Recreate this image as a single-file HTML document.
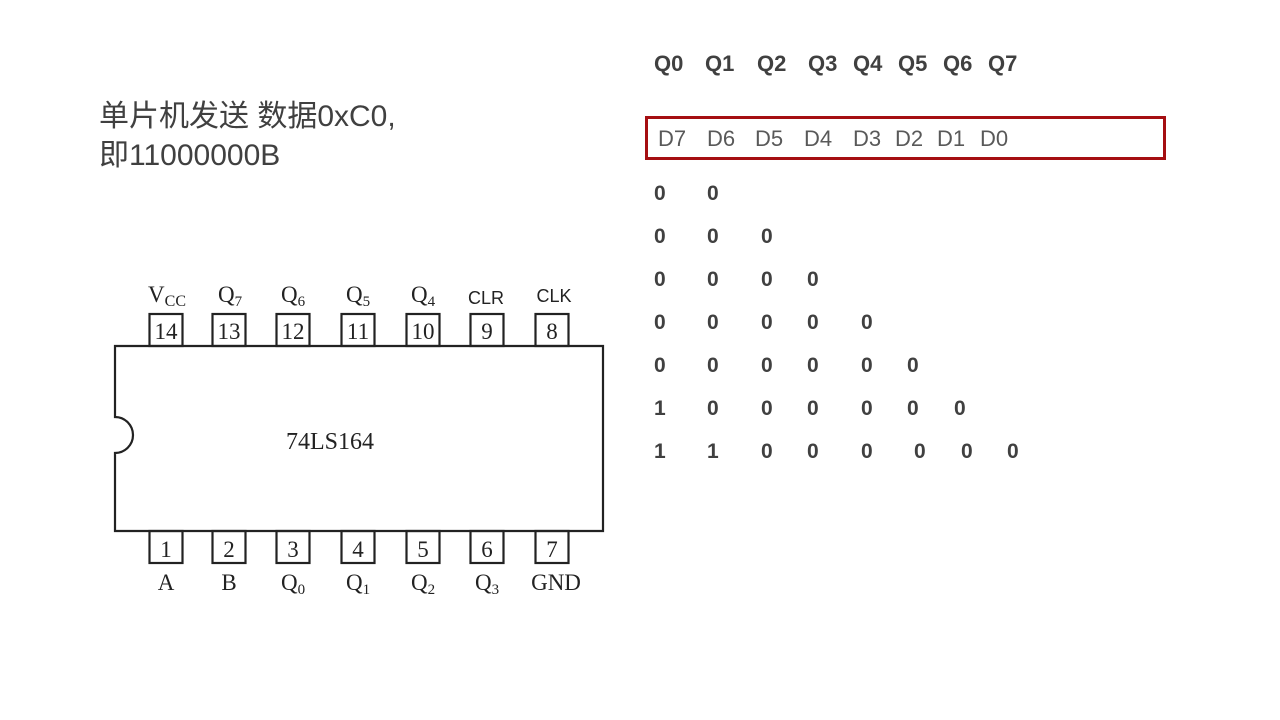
<!DOCTYPE html>
<html><head><meta charset="utf-8">
<style>
body{margin:0;width:1280px;height:720px;background:#fff;position:relative;overflow:hidden;font-family:"Liberation Sans","Noto Sans CJK SC",sans-serif}
.t{position:absolute;white-space:nowrap}
.q{font-weight:bold;font-size:22px;color:#404040;top:51px}
.d{font-size:22px;color:#595959;top:126px}
</style></head><body>
<div class="t" style="left:99px;top:97px;font-size:30px;line-height:39px;color:#404040">单片机发送 数据0xC0,<br>即11000000B</div>

<div class="t q" style="left:654px">Q0</div>
<div class="t q" style="left:705px">Q1</div>
<div class="t q" style="left:757px">Q2</div>
<div class="t q" style="left:808px">Q3</div>
<div class="t q" style="left:853px">Q4</div>
<div class="t q" style="left:898px">Q5</div>
<div class="t q" style="left:943px">Q6</div>
<div class="t q" style="left:988px">Q7</div>

<div style="position:absolute;left:645px;top:116px;width:515px;height:38px;border:3px solid #a50f12"></div>
<div class="t d" style="left:658px">D7</div>
<div class="t d" style="left:707px">D6</div>
<div class="t d" style="left:755px">D5</div>
<div class="t d" style="left:804px">D4</div>
<div class="t d" style="left:853px">D3</div>
<div class="t d" style="left:895px">D2</div>
<div class="t d" style="left:937px">D1</div>
<div class="t d" style="left:980px">D0</div>

<svg width="1280" height="720" style="position:absolute;left:0;top:0" font-family="Liberation Sans, sans-serif" font-size="21" font-weight="bold" fill="#404040">
<g>
<text x="654" y="200">0</text><text x="707" y="200">0</text>
<text x="654" y="243">0</text><text x="707" y="243">0</text><text x="761" y="243">0</text>
<text x="654" y="286">0</text><text x="707" y="286">0</text><text x="761" y="286">0</text><text x="807" y="286">0</text>
<text x="654" y="329">0</text><text x="707" y="329">0</text><text x="761" y="329">0</text><text x="807" y="329">0</text><text x="861" y="329">0</text>
<text x="654" y="372">0</text><text x="707" y="372">0</text><text x="761" y="372">0</text><text x="807" y="372">0</text><text x="861" y="372">0</text><text x="907" y="372">0</text>
<text x="654" y="415">1</text><text x="707" y="415">0</text><text x="761" y="415">0</text><text x="807" y="415">0</text><text x="861" y="415">0</text><text x="907" y="415">0</text><text x="954" y="415">0</text>
<text x="654" y="458">1</text><text x="707" y="458">1</text><text x="761" y="458">0</text><text x="807" y="458">0</text><text x="861" y="458">0</text><text x="914" y="458">0</text><text x="961" y="458">0</text><text x="1007" y="458">0</text>
</g>
<g stroke="#222" stroke-width="2.2" fill="none">
<path d="M115,346 H603 V531 H115 V453 A18,18 0 0 0 115,417 Z"/>
<rect x="149.5" y="314" width="33" height="32"/>
<rect x="212.5" y="314" width="33" height="32"/>
<rect x="276.5" y="314" width="33" height="32"/>
<rect x="341.5" y="314" width="33" height="32"/>
<rect x="406.5" y="314" width="33" height="32"/>
<rect x="470.5" y="314" width="33" height="32"/>
<rect x="535.5" y="314" width="33" height="32"/>
<rect x="149.5" y="531" width="33" height="32"/>
<rect x="212.5" y="531" width="33" height="32"/>
<rect x="276.5" y="531" width="33" height="32"/>
<rect x="341.5" y="531" width="33" height="32"/>
<rect x="406.5" y="531" width="33" height="32"/>
<rect x="470.5" y="531" width="33" height="32"/>
<rect x="535.5" y="531" width="33" height="32"/>
</g>
<g font-family="Liberation Serif, serif" font-weight="normal" font-size="23" fill="#222" text-anchor="middle">
<text x="166" y="339">14</text><text x="229" y="339">13</text><text x="293" y="339">12</text><text x="358" y="339">11</text><text x="423" y="339">10</text><text x="487" y="339">9</text><text x="552" y="339">8</text>
<text x="166" y="557">1</text><text x="229" y="557">2</text><text x="293" y="557">3</text><text x="358" y="557">4</text><text x="423" y="557">5</text><text x="487" y="557">6</text><text x="552" y="557">7</text>
<text x="330" y="449" font-size="24">74LS164</text>
<text x="166" y="590">A</text><text x="229" y="590">B</text>
<text x="293" y="590">Q<tspan font-size="15" dy="4">0</tspan></text>
<text x="358" y="590">Q<tspan font-size="15" dy="4">1</tspan></text>
<text x="423" y="590">Q<tspan font-size="15" dy="4">2</tspan></text>
<text x="487" y="590">Q<tspan font-size="15" dy="4">3</tspan></text>
<text x="556" y="590">GND</text>
<text x="167" y="302">V<tspan font-size="16" dy="4">CC</tspan></text>
<text x="230" y="302">Q<tspan font-size="15" dy="4">7</tspan></text>
<text x="293" y="302">Q<tspan font-size="15" dy="4">6</tspan></text>
<text x="358" y="302">Q<tspan font-size="15" dy="4">5</tspan></text>
<text x="423" y="302">Q<tspan font-size="15" dy="4">4</tspan></text>
</g>
<g font-family="Liberation Sans, sans-serif" font-weight="normal" font-size="18" fill="#222" text-anchor="middle">
<text x="486" y="304">CLR</text><text x="554" y="302">CLK</text>
</g>
</svg>
</body></html>
